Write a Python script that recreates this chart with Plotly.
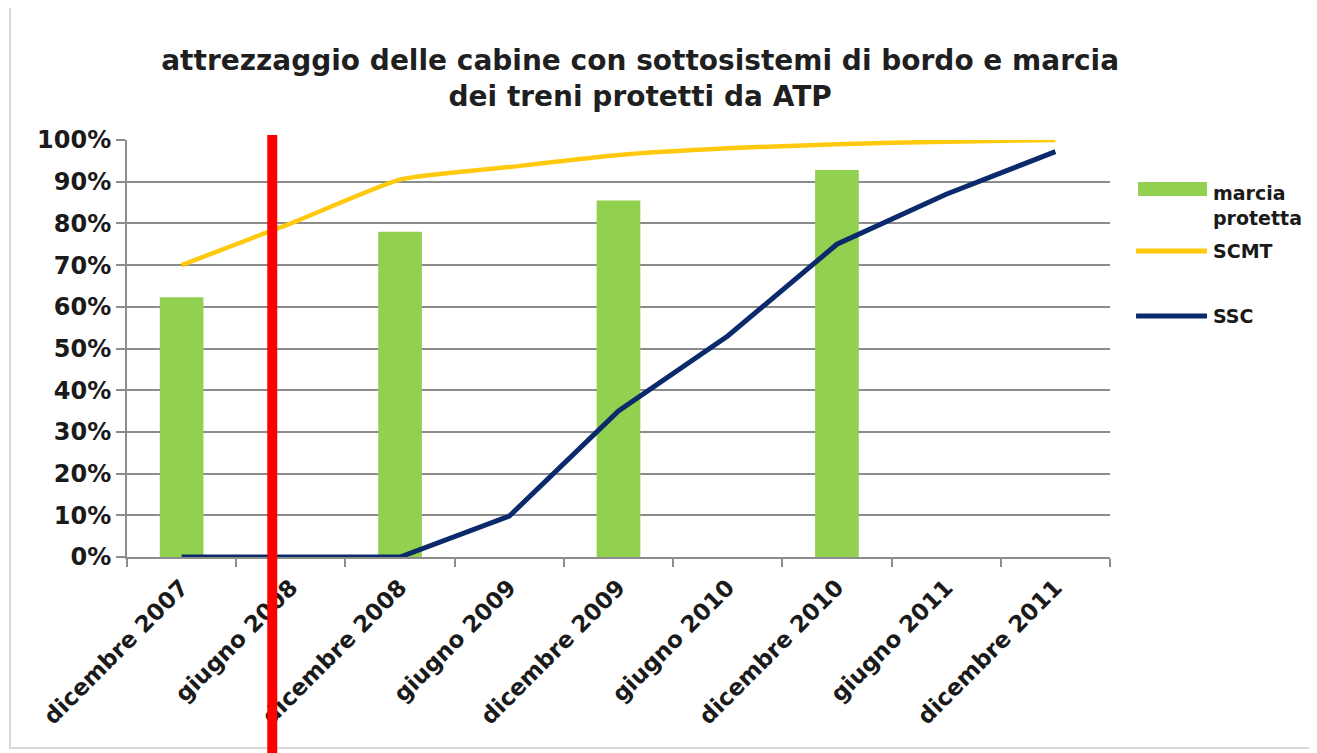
import plotly.graph_objects as go

categories = ["dicembre 2007", "giugno 2008", "dicembre 2008", "giugno 2009",
              "dicembre 2009", "giugno 2010", "dicembre 2010", "giugno 2011",
              "dicembre 2011"]
marcia_protetta = [0.623, None, 0.78, None, 0.855, None, 0.928, None, None]
scmt = [0.70, 0.80, 0.905, 0.935, 0.964, 0.98, 0.99, 0.996, 1.0]
ssc = [0.0, 0.0, 0.0, 0.098, 0.35, 0.53, 0.75, 0.87, 0.972]
red_line_pos = 0.83  # category position of the red marker
y_ticks = [0, 0.1, 0.2, 0.3, 0.4, 0.5, 0.6, 0.7, 0.8, 0.9, 1.0]
y_tick_labels = ["0%", "10%", "20%", "30%", "40%", "50%", "60%", "70%", "80%", "90%", "100%"]

GREEN = "#92D050"
YELLOW = "#FFC90E"
NAVY = "#0B2A6B"
GRID = "#8C8C8C"
FONT = "DejaVu Sans"

fig = go.Figure()
fig.add_trace(go.Bar(x=categories, y=marcia_protetta, name="marcia protetta",
                     marker=dict(color=GREEN, line=dict(width=0)), width=0.4,
                     showlegend=False))
fig.add_trace(go.Scatter(x=categories, y=scmt, name="SCMT", mode="lines",
                         line=dict(color=YELLOW, width=4.5, shape="spline", smoothing=0.5),
                         showlegend=False))
fig.add_trace(go.Scatter(x=categories, y=ssc, name="SSC", mode="lines",
                         line=dict(color=NAVY, width=5),
                         showlegend=False))

shapes = []
# red vertical marker
shapes.append(dict(type="line", xref="x", yref="paper", x0=red_line_pos, x1=red_line_pos,
                   y0=-0.48, y1=1.012, line=dict(color="#FF0000", width=10), layer="above"))
# outer frame
shapes.append(dict(type="rect", xref="paper", yref="paper",
                   x0=(10 - 127) / 983, x1=(1312 - 127) / 983,
                   y0=(557 - 748) / 417, y1=(557 - 4) / 417,
                   line=dict(color="#D9D9D9", width=2), layer="below"))
# manual legend symbols
shapes.append(dict(type="rect", xref="paper", yref="paper",
                   x0=1.0285, x1=1.0987, y0=0.866, y1=0.899,
                   fillcolor=GREEN, line=dict(width=0)))
shapes.append(dict(type="line", xref="paper", yref="paper",
                   x0=1.0265, x1=1.0987, y0=0.734, y1=0.734,
                   line=dict(color=YELLOW, width=5)))
shapes.append(dict(type="line", xref="paper", yref="paper",
                   x0=1.0265, x1=1.0987, y0=0.578, y1=0.578,
                   line=dict(color=NAVY, width=5)))

LEG_FONT = dict(family=FONT, size=19, color="#1A1A1A", weight="bold")
annotations = [
    dict(text="marcia<br>protetta", xref="paper", yref="paper", x=1.103, y=0.843,
         xanchor="left", yanchor="middle", align="left", showarrow=False, font=LEG_FONT),
    dict(text="SCMT", xref="paper", yref="paper", x=1.103, y=0.734,
         xanchor="left", yanchor="middle", showarrow=False, font=LEG_FONT),
    dict(text="SSC", xref="paper", yref="paper", x=1.103, y=0.578,
         xanchor="left", yanchor="middle", showarrow=False, font=LEG_FONT),
]

fig.update_layout(
    width=1317, height=753,
    margin=dict(l=119, r=215, t=132, b=204),
    paper_bgcolor="white", plot_bgcolor="white",
    title=dict(text="attrezzaggio delle cabine con sottosistemi di bordo e marcia<br>dei treni protetti da ATP",
               x=0.48, xanchor="center", y=0.918, yanchor="top",
               font=dict(family=FONT, size=28, color="#1F1F1F", weight="bold")),
    shapes=shapes, annotations=annotations,
    bargap=0.6,
)
fig.update_xaxes(
    type="category", tickangle=-45, ticks="outside", tickson="boundaries",
    ticklen=8, tickwidth=2, tickcolor=GRID, showline=True, linecolor=GRID, linewidth=2,
    showgrid=False, ticklabelstandoff=6,
    tickfont=dict(family=FONT, size=23, color="#1A1A1A", weight="bold"),
)
fig.update_yaxes(
    range=[0, 1.0], tickvals=y_ticks, ticktext=y_tick_labels,
    ticks="outside", ticklen=9, tickwidth=2, tickcolor=GRID,
    showgrid=True, gridcolor=GRID, gridwidth=2,
    showline=True, linecolor=GRID, linewidth=2, zeroline=False,
    tickfont=dict(family=FONT, size=24, color="#1A1A1A", weight="bold"),
)

fig.write_html("out.html")
